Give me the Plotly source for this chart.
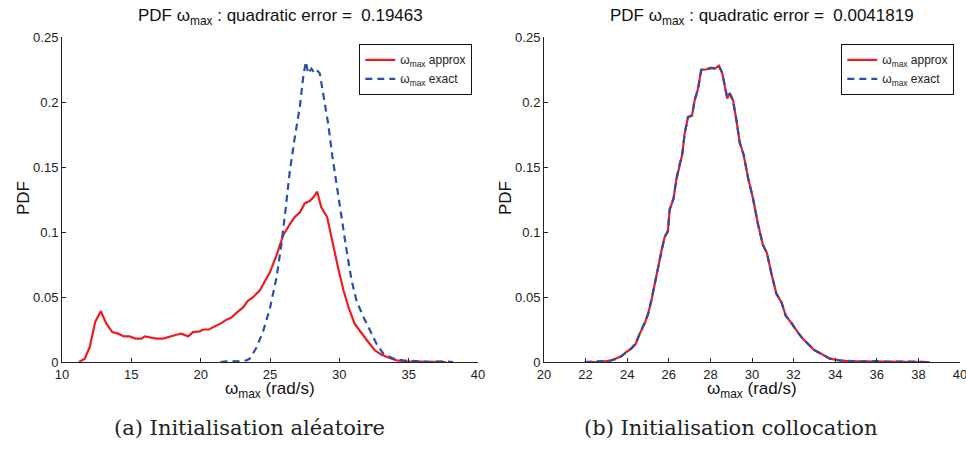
import plotly.graph_objects as go

# ---- data: (a) random initialisation ----
x_a_approx = [11.23, 11.64, 12.0, 12.4, 12.8, 13.2, 13.63, 14.04, 14.47, 14.88, 15.3, 15.73, 15.97, 16.45,
              16.8, 17.29, 17.77, 18.25, 18.6, 19.1, 19.45, 19.93, 20.17, 20.6, 21.0, 21.43, 21.86, 22.2,
              22.6, 23.06, 23.4, 23.8, 24.26, 24.6, 24.99, 25.47, 25.95, 26.43, 26.79, 27.15, 27.5, 27.88,
              28.16, 28.4, 28.7, 29.12, 29.51, 29.9, 30.3, 30.7, 31.1, 31.6, 32.08, 32.56, 33.04, 33.64,
              34.13, 34.85, 35.57, 36.3, 37.0, 37.7]
y_a_approx = [0.0, 0.0026, 0.0115, 0.031, 0.039, 0.0295, 0.023, 0.0218, 0.0197, 0.0197, 0.018, 0.018, 0.0197,
              0.0187, 0.018, 0.018, 0.0197, 0.021, 0.0218, 0.0197, 0.023, 0.0236, 0.025, 0.025, 0.0274, 0.0295,
              0.0326, 0.034, 0.038, 0.042, 0.047, 0.05, 0.055, 0.0615, 0.0690, 0.082, 0.0975, 0.106, 0.1115,
              0.115, 0.122, 0.124, 0.127, 0.131, 0.119, 0.1115, 0.091, 0.073, 0.055, 0.041, 0.0295, 0.0218,
              0.0154, 0.009, 0.0056, 0.0031, 0.0013, 0.0005, 0.0005, 0.0, 0.0005, 0.0]

x_a_exact = [21.43, 21.86, 22.58, 23.3, 23.54, 24.02, 24.5, 24.99, 25.47, 25.83, 26.14, 26.43, 26.79, 27.15,
             27.39, 27.58, 27.75, 27.99, 28.16, 28.35, 28.59, 28.88, 29.2, 29.5, 29.85, 30.16, 30.52, 30.88,
             31.24, 31.72, 32.2, 32.68, 33.17, 33.9, 34.6, 35.57, 36.5, 37.5, 38.2]
y_a_exact = [0.0, 0.0005, 0.0005, 0.0013, 0.0026, 0.0110, 0.0235, 0.041, 0.065, 0.091, 0.119, 0.147, 0.173,
             0.196, 0.219, 0.231, 0.222, 0.2256, 0.223, 0.225, 0.222, 0.204, 0.183, 0.158, 0.132, 0.109, 0.086,
             0.063, 0.047, 0.035, 0.024, 0.014, 0.0064, 0.0026, 0.0013, 0.0005, 0.0, 0.0005, 0.0]

# ---- data: (b) collocation initialisation ----
x_b_approx = [21.96, 22.5, 23.16, 23.48, 23.72, 23.96, 24.2, 24.41, 24.6, 24.84, 25.0, 25.16, 25.32, 25.48,
              25.64, 25.8, 25.96, 26.04, 26.23, 26.36, 26.52, 26.65, 26.76, 26.92, 27.12, 27.24, 27.4, 27.56,
              27.8, 28.04, 28.2, 28.41, 28.57, 28.69, 28.81, 28.93, 29.09, 29.25, 29.41, 29.6, 29.81, 30.05,
              30.29, 30.53, 30.72, 30.93, 31.17, 31.41, 31.62, 31.89, 32.13, 32.37, 32.69, 33.0, 33.33, 33.73,
              34.2, 34.7, 35.3, 35.98, 36.6, 37.4, 38.0, 38.54]
y_b_approx = [0.0, 0.0, 0.0008, 0.0026, 0.0044, 0.0077, 0.0103, 0.014, 0.0218, 0.0295, 0.037, 0.047, 0.060,
              0.073, 0.085, 0.096, 0.101, 0.117, 0.126, 0.140, 0.1526, 0.160, 0.1756, 0.188, 0.190, 0.201,
              0.210, 0.225, 0.225, 0.2264, 0.2256, 0.228, 0.222, 0.213, 0.2026, 0.207, 0.2013, 0.186, 0.169,
              0.159, 0.142, 0.1256, 0.106, 0.0897, 0.0838, 0.068, 0.0526, 0.046, 0.0359, 0.030, 0.0244,
              0.0192, 0.0141, 0.009, 0.0064, 0.0026, 0.0013, 0.0005, 0.0005, 0.0005, 0.0, 0.0, 0.0, 0.0]

x_b_exact = [21.96, 22.5, 23.16, 23.48, 23.72, 23.96, 24.2, 24.41, 24.6, 24.84, 25.0, 25.16, 25.32, 25.48,
             25.64, 25.8, 25.96, 26.04, 26.23, 26.36, 26.52, 26.65, 26.76, 26.92, 27.12, 27.24, 27.4, 27.56,
             27.8, 28.04, 28.2, 28.41, 28.57, 28.69, 28.81, 28.93, 29.09, 29.25, 29.41, 29.6, 29.81, 30.05,
             30.29, 30.53, 30.72, 30.93, 31.17, 31.41, 31.62, 31.89, 32.13, 32.37, 32.69, 33.0, 33.33, 33.73,
             34.2, 34.7, 35.3, 35.98, 36.6, 37.4, 38.0, 38.4]
y_b_exact = [0.0, 0.0005, 0.0010, 0.0024, 0.0046, 0.0075, 0.0105, 0.0145, 0.0215, 0.0300, 0.0365, 0.0475, 0.0595,
             0.0735, 0.0845, 0.0965, 0.1005, 0.1175, 0.1255, 0.1405, 0.1520, 0.1605, 0.1750, 0.1885, 0.1895,
             0.2015, 0.2095, 0.2245, 0.2255, 0.2260, 0.2262, 0.2275, 0.2225, 0.2125, 0.2035, 0.2065, 0.2005,
             0.1865, 0.1685, 0.1595, 0.1415, 0.1260, 0.1055, 0.0900, 0.0835, 0.0685, 0.0525, 0.0465, 0.0355,
             0.0305, 0.0240, 0.0195, 0.0138, 0.0092, 0.0062, 0.0028, 0.0012, 0.0006, 0.0004, 0.0006, 0.0002,
             0.0004, 0.0, 0.0]

titles = ["PDF ω<sub>max</sub> : quadratic error =&nbsp; 0.19463",
          "PDF ω<sub>max</sub> : quadratic error =&nbsp; 0.0041819"]
captions = ["(a) Initialisation aléatoire", "(b) Initialisation collocation"]
xtick_a = [10, 15, 20, 25, 30, 35, 40]
xtick_b = [20, 22, 24, 26, 28, 30, 32, 34, 36, 38, 40]
ytick_vals = [0, 0.05, 0.1, 0.15, 0.2, 0.25]
ytick_text = ["0", "0.05", "0.1", "0.15", "0.2", "0.25"]

RED = "#ec1c24"
BLUE = "#2b4ea6"
W, H = 966, 449
FONT = "Liberation Sans, Arial, sans-serif"

fig = go.Figure()
fig.add_trace(go.Scatter(x=x_a_approx, y=y_a_approx, mode="lines", name="ω<sub>max</sub> approx",
                         line=dict(color=RED, width=2.2), xaxis="x", yaxis="y", legend="legend"))
fig.add_trace(go.Scatter(x=x_a_exact, y=y_a_exact, mode="lines", name="ω<sub>max</sub> exact",
                         line=dict(color=BLUE, width=2.2, dash="7px,5px"), xaxis="x", yaxis="y", legend="legend"))
fig.add_trace(go.Scatter(x=x_b_approx, y=y_b_approx, mode="lines", name="ω<sub>max</sub> approx",
                         line=dict(color=RED, width=2.2), xaxis="x2", yaxis="y2", legend="legend2"))
fig.add_trace(go.Scatter(x=x_b_exact, y=y_b_exact, mode="lines", name="ω<sub>max</sub> exact",
                         line=dict(color=BLUE, width=2.2, dash="7px,5px"), xaxis="x2", yaxis="y2", legend="legend2"))

dom_x1 = [62 / W, 478 / W]
dom_x2 = [544 / W, 960 / W]
dom_y = [1 - 362 / H, 1 - 37 / H]

axis_common = dict(showline=True, linecolor="#222", linewidth=1, ticks="inside", ticklen=4,
                   tickcolor="#222", showgrid=False, zeroline=False, automargin=False,
                   ticklabeloverflow="allow",
                   tickfont=dict(family=FONT, size=13, color="#222"))

layout = dict(
    width=W, height=H, margin=dict(l=0, r=0, t=0, b=0, autoexpand=False),
    paper_bgcolor="white", plot_bgcolor="white",
    xaxis=dict(domain=dom_x1, range=[10, 40], tickvals=xtick_a, anchor="y", **axis_common),
    yaxis=dict(domain=dom_y, range=[0, 0.25], tickvals=ytick_vals, ticktext=ytick_text, anchor="x", **axis_common),
    xaxis2=dict(domain=dom_x2, range=[20, 40], tickvals=xtick_b, anchor="y2", **axis_common),
    yaxis2=dict(domain=dom_y, range=[0, 0.25], tickvals=ytick_vals, ticktext=ytick_text, anchor="x2", **axis_common),
    showlegend=True,
)
leg_common = dict(bgcolor="white", bordercolor="#111", borderwidth=1.3,
                  font=dict(family=FONT, size=12, color="#222"),
                  xanchor="right", yanchor="top", y=1 - 44 / H,
                  itemwidth=30, tracegroupgap=0)
layout["legend"] = dict(x=472 / W, **leg_common)
layout["legend2"] = dict(x=954 / W, **leg_common)
fig.update_layout(**layout)

ann = []
for i, (cx, ttl, cap) in enumerate([(270, titles[0], captions[0]), (752, titles[1], captions[1])]):
    ann.append(dict(x=(cx + 10) / W, y=1 - 17 / H, xref="paper", yref="paper", text=ttl, showarrow=False,
                    font=dict(family=FONT, size=17, color="#111"), xanchor="center", yanchor="middle"))
    ann.append(dict(x=cx / W, y=1 - 390 / H, xref="paper", yref="paper", text="ω<sub>max</sub> (rad/s)",
                    showarrow=False, font=dict(family=FONT, size=17, color="#111"),
                    xanchor="center", yanchor="middle"))
    ann.append(dict(x=(cx - 21) / W, y=1 - 428 / H, xref="paper", yref="paper", text=cap, showarrow=False,
                    font=dict(family="DejaVu Serif, Liberation Serif, serif", size=21, color="#222"),
                    xanchor="center", yanchor="middle"))
    ann.append(dict(x=(24 if i == 0 else 506) / W, y=1 - 198 / H, xref="paper", yref="paper", text="PDF",
                    showarrow=False, textangle=-90, font=dict(family=FONT, size=17, color="#111"),
                    xanchor="center", yanchor="middle"))
fig.update_layout(annotations=ann)

fig.write_html("out.html", config={"displayModeBar": False},
               post_script="document.body.style.margin='0px';document.body.style.overflow='hidden';")
